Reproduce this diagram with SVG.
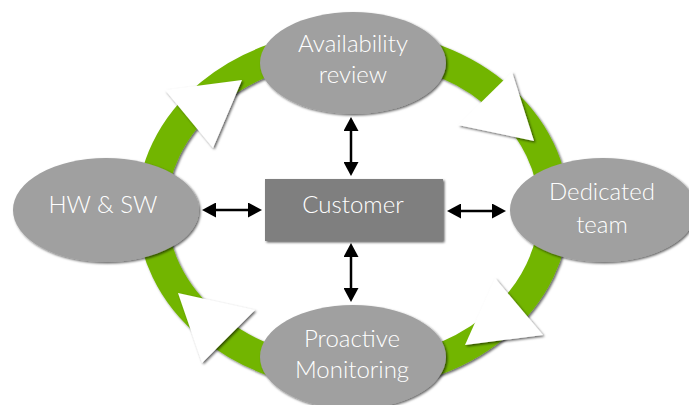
<svg xmlns="http://www.w3.org/2000/svg" width="689" height="405" viewBox="0 0 689 405">
  <defs>
    <filter id="sh" x="-10%" y="-10%" width="120%" height="120%">
      <feDropShadow dx="1.5" dy="1.5" stdDeviation="0.8" flood-color="#000" flood-opacity="0.6"/>
    </filter>
    <marker id="ah" markerUnits="userSpaceOnUse" markerWidth="15" markerHeight="15" viewBox="0 0 14 15" refX="4" refY="7.5" orient="auto-start-reverse">
      <path d="M0,0 L14,7.5 L0,15 z" fill="#000"/>
    </marker>
    <style>
      .node { fill: #a0a0a0; filter: url(#sh); }
      .box { fill: #7f7f7f; filter: url(#sh); }
      .lbl { fill: #ffffff; font-family: Lato, "Open Sans", "Liberation Sans", sans-serif; font-weight: 300; font-size: 24px; text-anchor: middle; }
      .tri { fill: #ffffff; filter: url(#sh); }
      .conn { stroke: #000; stroke-width: 2.5; fill: none; marker-start: url(#ah); marker-end: url(#ah); }
    </style>
  </defs>
  <rect width="689" height="405" fill="#ffffff"/>

  <g id="cycle">
    <ellipse cx="353" cy="210" rx="201" ry="165" fill="none" stroke="#72b500" stroke-width="30" filter="url(#sh)"/>
    <polygon class="tri" points="165,90 242,80 213,148"/>
    <polygon class="tri" points="512,72 458,125 534,141"/>
    <polygon class="tri" points="495,278 543,335 465,345"/>
    <polygon class="tri" points="255,310 202,363 178,293"/>
  </g>

  <g id="connectors">
    <line class="conn" x1="351" y1="127" x2="351" y2="166"/>
    <line class="conn" x1="351" y1="253" x2="351" y2="292"/>
    <line class="conn" x1="212" y1="210" x2="252" y2="210"/>
    <line class="conn" x1="457" y1="211" x2="496" y2="211"/>
  </g>

  <g id="availability">
    <ellipse class="node" cx="353" cy="63" rx="93" ry="51"/>
    <text class="lbl" x="353" y="52">Availability</text>
    <text class="lbl" x="353" y="83">review</text>
  </g>

  <g id="dedicated">
    <ellipse class="node" cx="603" cy="210" rx="93" ry="52"/>
    <text class="lbl" x="602" y="200">Dedicated</text>
    <text class="lbl" x="602" y="233">team</text>
  </g>

  <g id="hwsw">
    <ellipse class="node" cx="106" cy="210" rx="93" ry="52"/>
    <text class="lbl" x="103" y="213">HW &amp; SW</text>
  </g>

  <g id="proactive">
    <ellipse class="node" cx="353" cy="357" rx="93" ry="52"/>
    <text class="lbl" x="352" y="347">Proactive</text>
    <text class="lbl" x="352" y="378">Monitoring</text>
  </g>

  <g id="customer">
    <rect class="box" x="265" y="179" width="178" height="62"/>
    <text class="lbl" x="353" y="213">Customer</text>
  </g>
</svg>
